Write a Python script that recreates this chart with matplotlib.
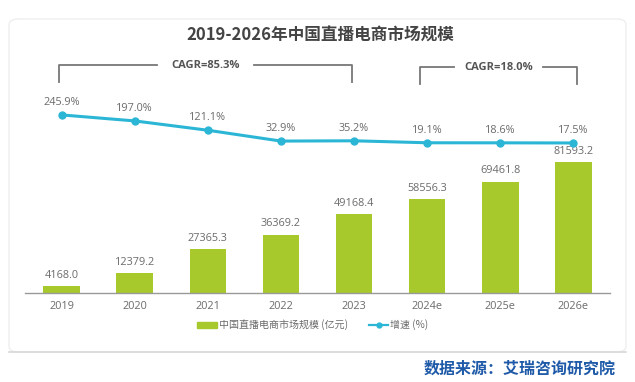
import matplotlib
matplotlib.use("Agg")
import matplotlib.pyplot as plt
from matplotlib.patches import FancyBboxPatch, Rectangle
from matplotlib.lines import Line2D
import matplotlib.transforms as mtransforms

plt.rcParams['font.family'] = ['Noto Sans CJK SC', 'DejaVu Sans']

categories = ["2019", "2020", "2021", "2022", "2023", "2024e", "2025e", "2026e"]
market_size = [4168.0, 12379.2, 27365.3, 36369.2, 49168.4, 58556.3, 69461.8, 81593.2]
growth = [245.9, 197.0, 121.1, 32.9, 35.2, 19.1, 18.6, 17.5]
cagr_labels = ["CAGR=85.3%", "CAGR=18.0%"]
title = "2019-2026年中国直播电商市场规模"
legend_bar = "中国直播电商市场规模 (亿元)"
legend_line = "增速 (%)"
source = "数据来源：艾瑞咨询研究院"

W, H = 635, 382
fig = plt.figure(figsize=(W / 100, H / 100), dpi=100)
fig.patch.set_facecolor("white")

def fx(px):
    return px / W

def fy(py):
    return 1 - py / H

# card background
card = FancyBboxPatch((fx(9), fy(352)), fx(617), (352 - 19) / H,
                      boxstyle="round,pad=0,rounding_size=0.015",
                      transform=fig.transFigure, facecolor="white",
                      edgecolor="#eeeeee", linewidth=1.0, zorder=-10)
fig.patches.append(card)
fig.add_artist(Line2D([fx(9), fx(626)], [fy(352), fy(352)], color="#d8d8d8",
                      lw=1.2, transform=fig.transFigure))

GREEN = "#a8c92b"
CYAN = "#2bb6d6"
TXT = "#6b6b6b"
NUMFONT = ['Open Sans', 'DejaVu Sans']

ax_top, ax_bot = 60, 293
ax = fig.add_axes([fx(25), fy(ax_bot), fx(585), (ax_bot - ax_top) / H])
x = list(range(len(categories)))
ax.bar(x, market_size, width=0.5, color=GREEN, zorder=2)
ax.set_xlim(-0.5, 7.5)
ax.set_ylim(0, (ax_bot - ax_top) / 1.6 * 1000)
for xi, v in zip(x, market_size):
    ax.text(xi, v + 3500, f"{v:.1f}", ha="center", va="bottom", fontsize=7.8,
            color=TXT, family=NUMFONT)
ax.set_xticks(x)
ax.set_xticklabels(categories, fontsize=7.8, color=TXT, family=NUMFONT)
ax.tick_params(axis="x", length=0, pad=6)
ax.set_yticks([])
for s in ["top", "right", "left"]:
    ax.spines[s].set_visible(False)
ax.spines["bottom"].set_color("#999999")
ax.spines["bottom"].set_linewidth(1.0)
ax.patch.set_alpha(0)

ax2 = ax.twinx()
ax2.set_ylim(-1204, 693)
ax2.plot(x, growth, color=CYAN, lw=2.2, marker="o", markersize=5, zorder=3)
for xi, v in zip(x, growth):
    ax2.text(xi, v + 55, f"{v:.1f}%", ha="center", va="bottom", fontsize=7.8,
             color=TXT, family=NUMFONT)
ax2.axis("off")

# CAGR brackets
tr = mtransforms.blended_transform_factory(ax.transData, fig.transFigure)
def bracket(x0, x1, ytop_px, ybot_px, label, gap):
    ytop, ybot = fy(ytop_px), fy(ybot_px)
    xm = (x0 + x1) / 2
    kw = dict(color="#777777", lw=1.3, transform=tr, clip_on=False)
    fig.add_artist(Line2D([x0, x0, xm - gap], [ybot, ytop, ytop], **kw))
    fig.add_artist(Line2D([xm + gap, x1, x1], [ytop, ytop, ybot], **kw))
    fig.text(xm, ytop, label, ha="center", va="center", fontsize=8,
             color="#555555", fontweight="bold", transform=tr,
             family=NUMFONT)

bracket(x[0] - 0.04, x[4] - 0.03, 65, 82, cagr_labels[0], 0.66)
bracket(x[5] - 0.1, x[7] + 0.05, 67, 84, cagr_labels[1], 0.61)

fig.text(0.505, fy(36), title, ha="center", va="center", fontsize=12,
         fontweight="bold", color="#444444")

# legend
LY = 325
fig.add_artist(Rectangle((fx(197), fy(LY + 3)), fx(20), 6 / H, color=GREEN,
                         transform=fig.transFigure))
fig.text(fx(219), fy(LY), legend_bar, ha="left", va="center", fontsize=7.2,
         color=TXT)
fig.add_artist(Line2D([fx(369), fx(388)], [fy(LY), fy(LY)], color=CYAN,
                      lw=1.6, transform=fig.transFigure))
fig.add_artist(Line2D([fx(378.5)], [fy(LY)], color=CYAN, marker="o",
                      markersize=3.5, transform=fig.transFigure))
fig.text(fx(390), fy(LY), legend_line, ha="left", va="center", fontsize=7.2,
         color=TXT)

fig.text(fx(616), fy(369), source, ha="right", va="center", fontsize=11.5,
         fontweight="bold", color="#1f5aa8")

fig.savefig("out.png", dpi=100)
